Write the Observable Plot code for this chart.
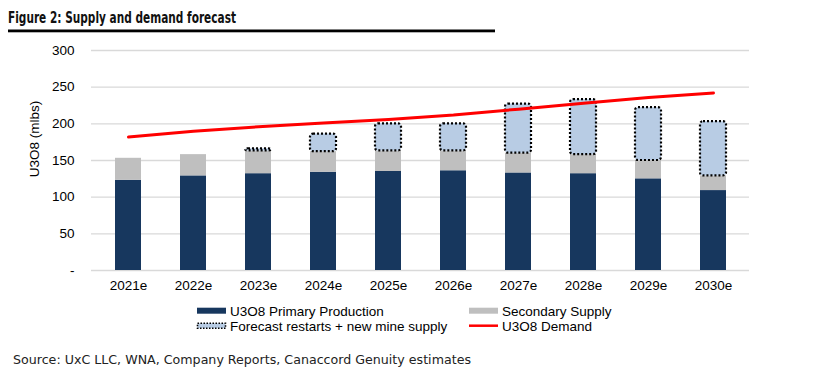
<!DOCTYPE html>
<html><head><meta charset="utf-8">
<script src="https://cdn.jsdelivr.net/npm/d3@7"></script>
<script src="https://cdn.jsdelivr.net/npm/@observablehq/plot@0.6"></script>
<style>
body{margin:0;background:#fff;}
#wrap{position:relative;width:815px;height:372px;overflow:hidden;font-family:"Liberation Sans",Arial,sans-serif;}
#chart{position:absolute;left:0;top:40px;}
.abs{position:absolute;left:0;top:0;}
#ylab{position:absolute;left:34px;top:139px;transform:translate(-50%,-50%) rotate(-90deg);font-size:13.5px;color:#000;white-space:nowrap;}
</style></head>
<body><div id="wrap">
<svg class="abs" width="815" height="40">
  <text x="8" y="22.5" font-family="DejaVu Sans" font-weight="bold" font-size="15.5" fill="#111" textLength="228" lengthAdjust="spacingAndGlyphs">Figure 2: Supply and demand forecast</text>
  <rect x="8" y="29.5" width="487" height="2.8" fill="#000"/>
</svg>
<div id="chart"></div>
<div id="ylab">U3O8 (mlbs)</div>
<svg class="abs" id="legend" width="815" height="372" style="pointer-events:none"></svg>
</div>
<script>
const years = ["2021e","2022e","2023e","2024e","2025e","2026e","2027e","2028e","2029e","2030e"];
const primary = [123, 129, 132, 134, 135, 136, 133, 132, 125, 109];
const secondary = [30, 29, 31, 28, 28, 27, 27, 26, 25, 20];
const forecast = [0, 0, 3, 24, 37, 37, 67, 75, 72, 74];
const demand = [182, 190, 196, 201, 206, 212, 220, 228, 236, 242];
const yTicks = [0, 50, 100, 150, 200, 250, 300];

const rows = years.map((y, i) => ({
  year: y,
  p0: 0, p1: primary[i],
  s0: primary[i], s1: primary[i] + secondary[i],
  f0: primary[i] + secondary[i], f1: primary[i] + secondary[i] + forecast[i],
  f: forecast[i],
  d: demand[i]
}));

const chart = Plot.plot({
  width: 815, height: 260,
  marginLeft: 91, marginRight: 66, marginTop: 10, marginBottom: 30,
  style: {fontFamily: '"Liberation Sans", Arial, sans-serif', fontSize: "13.5px", color: "#000", background: "transparent"},
  x: {domain: years, paddingInner: 0.6, paddingOuter: 0.3, label: null},
  y: {domain: [0, 300], label: null},
  marks: [
    Plot.ruleY(yTicks, {stroke: "#D9D9D9", strokeWidth: 1.3}),
    Plot.axisY({ticks: yTicks, tickSize: 0, tickPadding: 17, label: null, fontSize: 13.5,
      tickFormat: d => d === 0 ? "-" : String(d)}),
    Plot.axisX({tickSize: 0, tickPadding: 10, label: null, fontSize: 13.5}),
    Plot.barY(rows, {x: "year", y1: "p0", y2: "p1", fill: "#17375E"}),
    Plot.barY(rows, {x: "year", y1: "s0", y2: "s1", fill: "#BFBFBF"}),
    Plot.barY(rows.filter(r => r.f > 0), {x: "year", y1: "f0", y2: "f1", fill: "#B8CCE4",
      stroke: "#000", strokeWidth: 2.2, strokeDasharray: "2,2", rx: 3}),
    Plot.lineY(rows, {x: "year", y: "d", stroke: "#FF0000", strokeWidth: 3})
  ]
});
document.getElementById("chart").appendChild(chart);

// legend
const lg = d3.select("#legend");
const font = '"Liberation Sans", Arial, sans-serif';
const items = [
  {x: 197, y: 310.7, label: "U3O8 Primary Production", type: "rect", fill: "#17375E"},
  {x: 469, y: 310.7, label: "Secondary Supply", type: "rect", fill: "#BFBFBF"},
  {x: 197, y: 325.7, label: "Forecast restarts + new mine supply", type: "dash", fill: "#B8CCE4"},
  {x: 469, y: 325.7, label: "U3O8 Demand", type: "line", fill: "#FF0000"}
];
items.forEach(it => {
  if (it.type === "rect") {
    lg.append("rect").attr("x", it.x).attr("y", it.y - 3).attr("width", 29).attr("height", 6).attr("fill", it.fill);
  } else if (it.type === "dash") {
    lg.append("rect").attr("x", it.x + 0.5).attr("y", it.y - 2.5).attr("width", 28).attr("height", 5)
      .attr("fill", it.fill).attr("stroke", "#000").attr("stroke-width", 1.6).attr("stroke-dasharray", "1.5,1.5");
  } else {
    lg.append("line").attr("x1", it.x).attr("x2", it.x + 29).attr("y1", it.y).attr("y2", it.y)
      .attr("stroke", it.fill).attr("stroke-width", 2.5);
  }
  lg.append("text").attr("x", it.x + 33).attr("y", it.y).attr("dy", "0.36em")
    .attr("font-family", font).attr("font-size", 13.5).attr("fill", "#000").text(it.label);
});
lg.append("text").attr("x", 13).attr("y", 363.5).attr("font-family", "DejaVu Sans").attr("font-size", 13)
  .attr("fill", "#222").attr("textLength", 458).attr("lengthAdjust", "spacingAndGlyphs")
  .text("Source: UxC LLC, WNA, Company Reports, Canaccord Genuity estimates");
</script>
</body></html>
